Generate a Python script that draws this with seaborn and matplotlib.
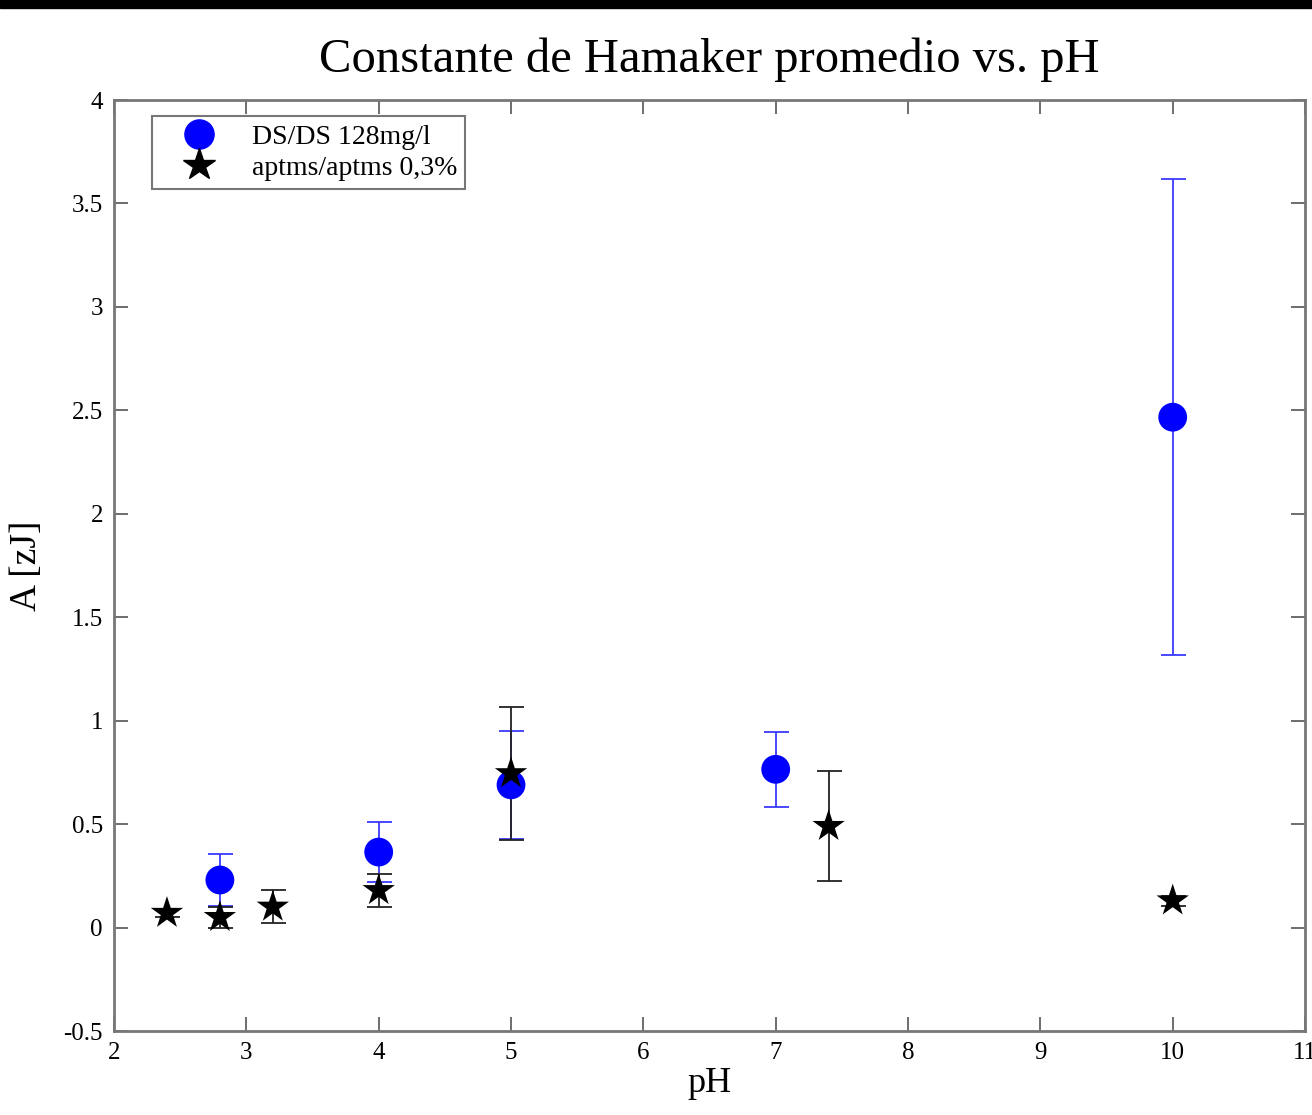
import matplotlib
matplotlib.use("Agg")
import matplotlib.pyplot as plt
import seaborn as sns
import pandas as pd
from matplotlib.patches import Rectangle
from matplotlib.lines import Line2D

sns.set_theme(style="white")
plt.rcParams['font.family'] = ['Liberation Serif', 'DejaVu Serif']
plt.rcParams['text.color'] = 'black'
plt.rcParams['axes.labelcolor'] = 'black'

# Data
ds_ph = [2.8, 4.0, 5.0, 7.0, 10.0]
ds_A = [0.23, 0.365, 0.69, 0.765, 2.467]
ds_err = [0.125, 0.145, 0.26, 0.18, 1.15]

ap_ph = [2.4, 2.8, 3.2, 4.0, 5.0, 7.4, 10.0]
ap_A = [0.07, 0.05, 0.10, 0.18, 0.745, 0.49, 0.13]
ap_err = [0.02, 0.05, 0.08, 0.08, 0.32, 0.265, 0.025]

labels = ["DS/DS 128mg/l", "aptms/aptms 0,3%"]

df = pd.concat([
    pd.DataFrame({"pH": ds_ph, "A": ds_A, "serie": labels[0]}),
    pd.DataFrame({"pH": ap_ph, "A": ap_A, "serie": labels[1]}),
], ignore_index=True)

fig = plt.figure(figsize=(13.12, 11.15), dpi=100)
ax = fig.add_axes([0.0869, 0.0753, 0.9078, 0.835])

ax.errorbar(ds_ph, ds_A, yerr=ds_err, fmt='none', ecolor='#3a3aff',
            elinewidth=1.3, capsize=9, capthick=1.3, zorder=2)
ax.errorbar(ap_ph, ap_A, yerr=ap_err, fmt='none', ecolor='#222222',
            elinewidth=1.3, capsize=9, capthick=1.3, zorder=2)

sns.scatterplot(data=df, x="pH", y="A", hue="serie", style="serie",
                markers={labels[0]: 'o', labels[1]: '*'},
                palette={labels[0]: '#0000ff', labels[1]: 'black'},
                size="serie", sizes={labels[0]: 430, labels[1]: 600},
                edgecolor='none', linewidth=0, ax=ax, zorder=3, legend=False)

ax.set_xlim(2, 11)
ax.set_ylim(-0.5, 4)
ax.set_xticks(range(2, 12))
ax.set_yticks([-0.5, 0, 0.5, 1, 1.5, 2, 2.5, 3, 3.5, 4])
ax.set_yticklabels(['-0.5', '0', '0.5', '1', '1.5', '2', '2.5', '3', '3.5', '4'])
ax.tick_params(direction='in', length=10, width=1.2, colors='#555555',
               labelcolor='black', labelsize=18, top=True, right=True,
               bottom=True, left=True, pad=8)
for s in ax.spines.values():
    s.set_color('#777777')
    s.set_linewidth(2)

ax.set_xlabel("pH", fontsize=26, labelpad=2)
ax.set_ylabel("A [zJ]", fontsize=27, labelpad=14)
ax.set_title("Constante de Hamaker promedio vs. pH", fontsize=35, pad=20,
             color='black')

handles = [
    Line2D([], [], marker='o', color='#0000ff', linestyle='none', markersize=21),
    Line2D([], [], marker='*', color='black', linestyle='none', markersize=24),
]
leg = ax.legend(handles, labels, loc='upper left', bbox_to_anchor=(0.02, 0.998),
                fontsize=20, frameon=True, fancybox=False, borderpad=0.3,
                handletextpad=0.5, labelspacing=0.2, handlelength=2.8)
leg.get_frame().set_edgecolor('#555555')
leg.get_frame().set_linewidth(1.5)

fig.patches.append(Rectangle((0, 0.993), 1, 0.007, transform=fig.transFigure,
                             color='black', zorder=10))

fig.savefig("out.png", dpi=100)
